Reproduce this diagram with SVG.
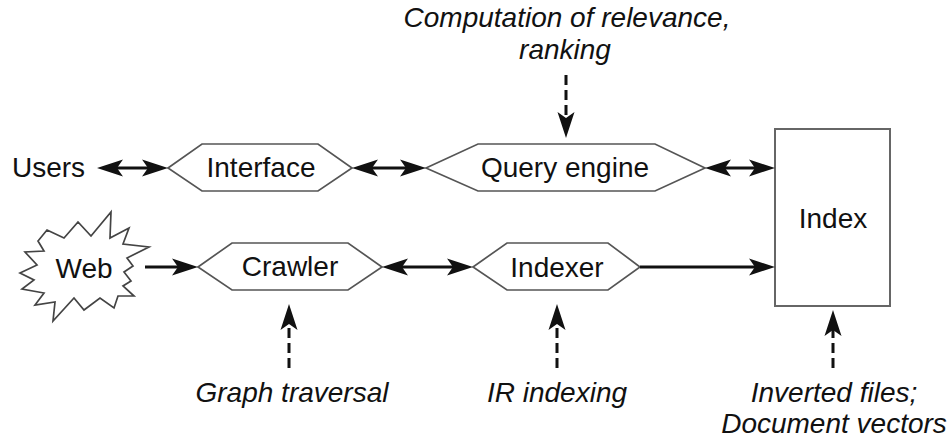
<svg xmlns="http://www.w3.org/2000/svg" width="951" height="439" viewBox="0 0 951 439">
<style>
text{font-family:"Liberation Sans",Arial,Helvetica,sans-serif;font-size:28px;fill:#111}
.lbl{text-anchor:middle}
.it{font-style:italic;text-anchor:middle}
.hex{fill:#fff;stroke:#555;stroke-width:1.7}
.box{fill:#fff;stroke:#666;stroke-width:2}
.burst{fill:#fff;stroke:#444;stroke-width:1.7;stroke-linejoin:miter}
.c{fill:none;stroke:#111;stroke-width:3}
.d{fill:none;stroke:#111;stroke-width:3;stroke-dasharray:10 5}
</style>
<defs>
<marker id="ah" markerUnits="userSpaceOnUse" markerWidth="36" markerHeight="22" viewBox="-24 -11 36 22" refX="0" refY="0" orient="auto-start-reverse" overflow="visible">
<path d="M6,0 L-20,-8.5 L-14,0 L-20,8.5 Z" fill="#111"/>
</marker>
</defs>
<g id="users"><text x="12" y="177">Users</text></g>
<g id="interface"><polygon class="hex" points="168,168 202,144 318,144 352,168 318,191 202,191"/><text class="lbl" x="261" y="177">Interface</text></g>
<g id="query-engine"><polygon class="hex" points="426,168 478,144 655,144 705,168 655,191 478,191"/><text class="lbl" x="565" y="177">Query engine</text></g>
<g id="web"><polygon class="burst" points="47,230 64,238 78,222 91,236 111,212 110,238 129,228 123,244 149,247 127,258 133,266 124,272 131,281 123,286 134,296 118,296 114,308 100,298 84,310 74,298 53,321 55,302 35,305 44,293 22,289 34,280 20,273 37,265 25,252 44,251 38,241"/><text class="lbl" x="84" y="278">Web</text></g>
<g id="crawler"><polygon class="hex" points="198,267 232,243 348,243 382,267 348,290 232,290"/><text class="lbl" x="290" y="276">Crawler</text></g>
<g id="indexer"><polygon class="hex" points="473,267 507,243 608,243 640,267 608,290 507,290"/><text class="lbl" x="557" y="277">Indexer</text></g>
<g id="index"><rect class="box" x="775" y="129" width="115" height="177"/><text class="lbl" x="833" y="228">Index</text></g>
<g id="label-ranking"><text class="it" x="567" y="27">Computation of relevance,</text><text class="it" x="565" y="59">ranking</text></g>
<g id="label-graph"><text class="it" x="292" y="402">Graph traversal</text></g>
<g id="label-ir"><text class="it" x="557" y="402">IR indexing</text></g>
<g id="label-inverted"><text class="it" x="834" y="402">Inverted files;</text><text class="it" x="834" y="433">Document vectors</text></g>
<g id="connectors">
<line class="c" x1="103" y1="168" x2="162" y2="168" marker-start="url(#ah)" marker-end="url(#ah)"/>
<line class="c" x1="358" y1="168" x2="420" y2="168" marker-start="url(#ah)" marker-end="url(#ah)"/>
<line class="c" x1="711" y1="168" x2="769" y2="168" marker-start="url(#ah)" marker-end="url(#ah)"/>
<line class="c" x1="145" y1="267" x2="192" y2="267" marker-end="url(#ah)"/>
<line class="c" x1="388" y1="267" x2="467" y2="267" marker-start="url(#ah)" marker-end="url(#ah)"/>
<line class="c" x1="640" y1="267" x2="769" y2="267" marker-end="url(#ah)"/>
<line class="d" x1="566" y1="75" x2="566" y2="132" marker-end="url(#ah)"/>
<line class="d" x1="289" y1="368" x2="289" y2="310" marker-end="url(#ah)"/>
<line class="d" x1="557" y1="368" x2="557" y2="310" marker-end="url(#ah)"/>
<line class="d" x1="833" y1="368" x2="833" y2="316" marker-end="url(#ah)"/>
</g>
</svg>
